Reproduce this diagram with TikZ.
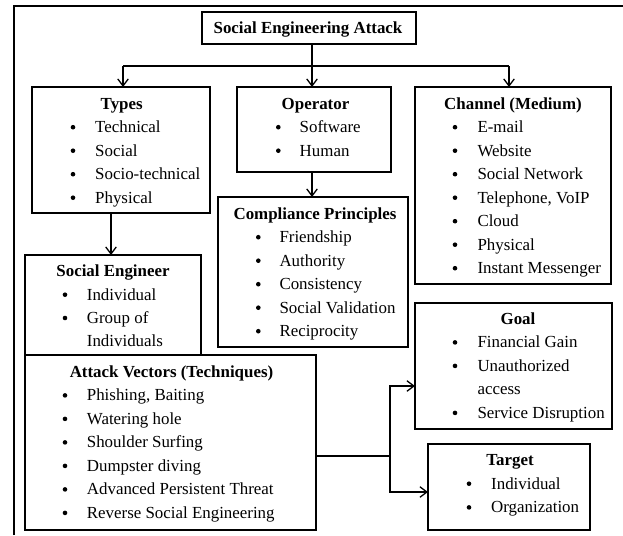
\documentclass[tikz,border=0pt]{standalone}
\usepackage{fontspec}
\setmainfont{Liberation Serif}
\usetikzlibrary{arrows.meta}

% body text size used throughout the chart
\newcommand\chartfont{\fontsize{16.9}{20}\selectfont}

% a framed box given by its corners (x1,y1) and (x2,y2)
\newcommand\panelbox[5]{%
  \node[box, minimum width={(#4-#2)*1pt}, minimum height={(#5-#3)*1pt}]
    (#1) at ({(#2+#4)/2},{(#3+#5)/2}) {};}
% a bullet and its text: name, bullet x, text x, baseline y, text
\newcommand\bitem[5]{%
  \node[bul] (#1b) at (#2,{#4-5.3}) {};
  \node[txt] (#1) at (#3,#4) {#5};}

\begin{document}
\begin{tikzpicture}[x=1pt, y=-1pt,
  box/.style={draw, line width=1.6pt, inner sep=0pt, outer sep=0pt},
  txt/.style={anchor=base west, inner sep=0pt, font=\chartfont},
  bul/.style={circle, fill, inner sep=0pt, minimum size=4.6pt},
  ttl/.style={anchor=base, inner sep=0pt, font=\chartfont\bfseries},
  conn/.style={line width=1.3pt},
  arr/.style={conn, -{Straight Barb[length=7pt, width=10.5pt, line width=1.3pt]}}]

\useasboundingbox (0,0) rectangle (623,535);

% outer frame (left and top edges)
\draw[line width=1.4pt] (14,535) -- (14,6) -- (623,6);

% ---- boxes ----
\panelbox{title}{202}{12}{416}{44}
\panelbox{types}{32}{87}{210}{213}
\panelbox{oper}{237}{87}{391}{172}
\panelbox{chan}{415}{87}{611}{284}
\panelbox{comp}{218}{197}{408}{347}
\panelbox{se}{25}{255}{201}{355}
\panelbox{av}{25}{355}{316}{530}
\panelbox{goal}{415}{303}{612}{429}
\panelbox{tgt}{428}{444}{590}{530}

% ---- root ----
\node[ttl] (titleT) at (308,33.3) {Social Engineering Attack};

% ---- Types ----
\node[ttl] (typesT) at (121.7,109) {Types};
\bitem{ty1}{73}{95}{132.5}{Technical}
\bitem{ty2}{73}{95}{156}{Social}
\bitem{ty3}{73}{95}{179.5}{Socio-technical}
\bitem{ty4}{73}{95}{203}{Physical}

% ---- Operator ----
\node[ttl] (operT) at (315.5,109) {Operator};
\bitem{op1}{278.3}{299.5}{132.5}{Software}
\bitem{op2}{278.3}{299.5}{156}{Human}

% ---- Channel ----
\node[ttl] (chanT) at (513,109.5) {Channel (Medium)};
\bitem{ch1}{455}{477.3}{132.5}{E-mail}
\bitem{ch2}{455}{477.3}{156}{Website}
\bitem{ch3}{455}{477.3}{179.5}{Social Network}
\bitem{ch4}{455}{477.3}{203}{Telephone, VoIP}
\bitem{ch5}{455}{477.3}{226.5}{Cloud}
\bitem{ch6}{455}{477.3}{250}{Physical}
\bitem{ch7}{455}{477.3}{273.5}{Instant Messenger}

% ---- Compliance Principles ----
\node[ttl] (compT) at (315,219) {Compliance Principles};
\bitem{cp1}{258.3}{279.3}{242.5}{Friendship}
\bitem{cp2}{258.3}{279.3}{266}{Authority}
\bitem{cp3}{258.3}{279.3}{289.5}{Consistency}
\bitem{cp4}{258.3}{279.3}{313}{Social Validation}
\bitem{cp5}{258.3}{279.3}{336.5}{Reciprocity}

% ---- Social Engineer ----
\node[ttl] (seT) at (113,276.7) {Social Engineer};
\bitem{se1}{65}{86.7}{300}{Individual}
\bitem{se2}{65}{86.7}{323.3}{Group of}
\node[txt] (se2c) at (86.7,346.7) {Individuals};

% ---- Attack Vectors ----
\node[ttl] (avT) at (171.5,377.7) {Attack Vectors (Techniques)};
\bitem{av1}{65}{86.7}{400.7}{Phishing, Baiting}
\bitem{av2}{65}{86.7}{424.2}{Watering hole}
\bitem{av3}{65}{86.7}{447.7}{Shoulder Surfing}
\bitem{av4}{65}{86.7}{471.2}{Dumpster diving}
\bitem{av5}{65}{86.7}{494.7}{Advanced Persistent Threat}
\bitem{av6}{65}{86.7}{518.2}{Reverse Social Engineering}

% ---- Goal ----
\node[ttl] (goalT) at (518,324.3) {Goal};
\bitem{go1}{455}{477.3}{347.7}{Financial Gain}
\bitem{go2}{455}{477.3}{371.2}{Unauthorized}
\node[txt] (go2c) at (477.3,394.7) {access};
\bitem{go3}{455}{477.3}{418.2}{Service Disruption}

% ---- Target ----
\node[ttl] (tgtT) at (510,465.7) {Target};
\bitem{tg1}{469}{491}{489}{Individual}
\bitem{tg2}{469}{491}{512.7}{Organization}

% ---- connectors ----
\coordinate (jT) at (312,66);
\coordinate (jL) at (123,66);
\coordinate (jR) at (509,66);
\draw[conn] (title.south -| jT) -- (jT);
\draw[conn] (jL) -- (jR);
\draw[arr] (jL) -- (jL |- types.north);
\draw[arr] (jT) -- (jT |- oper.north);
\draw[arr] (jR) -- (jR |- chan.north);

\coordinate (a1) at (111,234);
\draw[arr] (types.south -| a1) -- (se.north -| a1);
\coordinate (a2) at (312,185);
\draw[arr] (oper.south -| a2) -- (comp.north -| a2);

\coordinate (k) at (390,456);
\coordinate (kG) at (390,386);
\coordinate (kT) at (390,492);
\draw[conn] (av.east |- k) -- (k);
\draw[arr] (k) -- (kG) -- (kG -| goal.west);
\draw[arr] (k) -- (kT) -- (kT -| tgt.west);

\end{tikzpicture}
\end{document}
